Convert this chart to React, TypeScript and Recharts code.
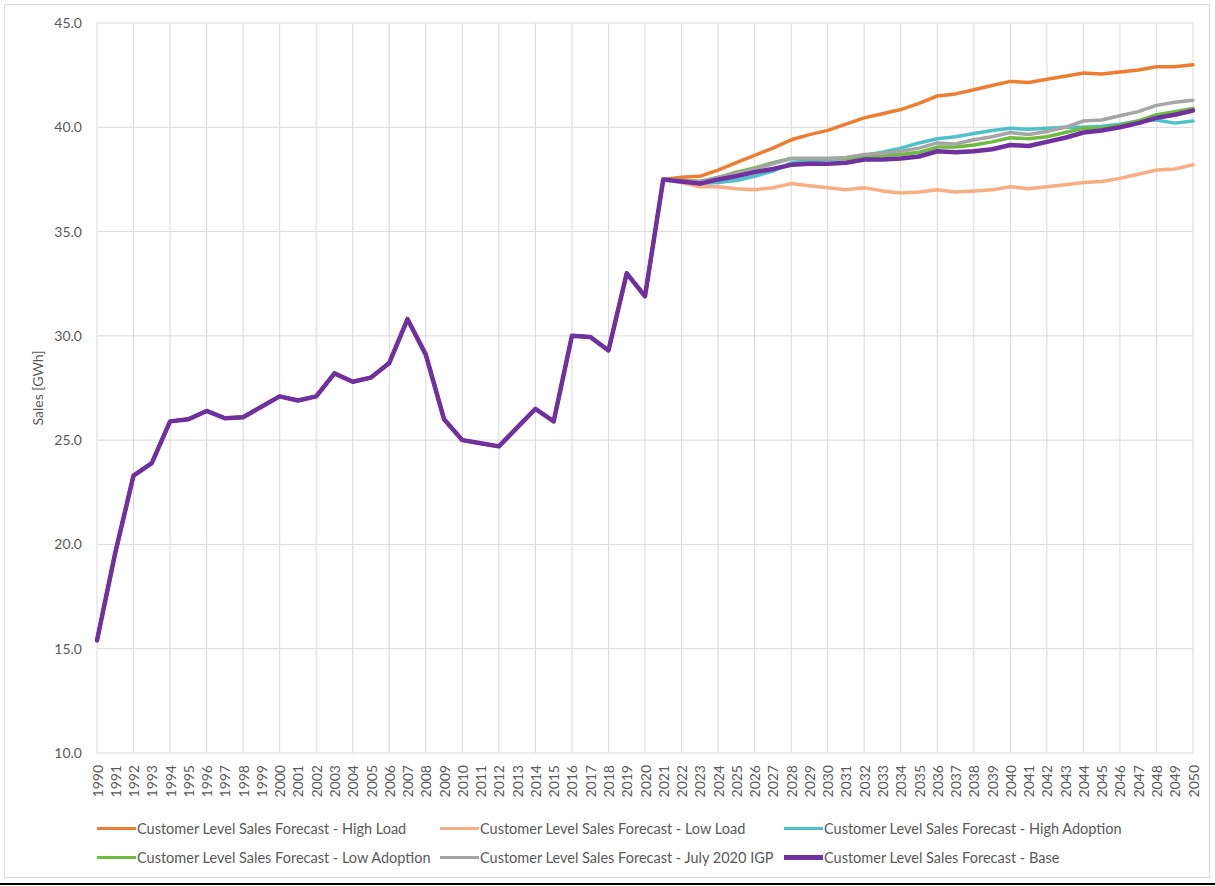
import React from 'react';
import { LineChart, Line, XAxis, YAxis, CartesianGrid, ReferenceLine, Legend } from 'recharts';

const YEARS = [
  1990, 1991, 1992, 1993, 1994, 1995, 1996, 1997, 1998, 1999,
  2000, 2001, 2002, 2003, 2004, 2005, 2006, 2007, 2008, 2009,
  2010, 2011, 2012, 2013, 2014, 2015, 2016, 2017, 2018, 2019,
  2020, 2021, 2022, 2023, 2024, 2025, 2026, 2027, 2028, 2029,
  2030, 2031, 2032, 2033, 2034, 2035, 2036, 2037, 2038, 2039,
  2040, 2041, 2042, 2043, 2044, 2045, 2046, 2047, 2048, 2049, 2050,
];

// 1990-2021 actuals (shared by every series)
const HISTORY = [
  15.4, 19.6, 23.3, 23.9, 25.9, 26.0, 26.4, 26.05, 26.1, 26.6,
  27.1, 26.9, 27.1, 28.2, 27.8, 28.0, 28.7, 30.8, 29.1, 26.0,
  25.0, 24.85, 24.7, 25.6, 26.5, 25.9, 30.0, 29.95, 29.3, 33.0,
  31.9, 37.5,
];

// 2022-2050 forecasts
const HIGH_LOAD = [
  37.6, 37.65, 37.95, 38.3, 38.65, 39.0, 39.4, 39.65, 39.85, 40.15,
  40.45, 40.65, 40.85, 41.15, 41.5, 41.6, 41.8, 42.0, 42.2, 42.15,
  42.3, 42.45, 42.6, 42.55, 42.65, 42.75, 42.9, 42.9, 43.0,
];
const LOW_LOAD = [
  37.35, 37.15, 37.15, 37.05, 37.0, 37.1, 37.3, 37.2, 37.1, 37.0,
  37.1, 36.95, 36.85, 36.9, 37.0, 36.9, 36.95, 37.0, 37.15, 37.05,
  37.15, 37.25, 37.35, 37.4, 37.55, 37.75, 37.95, 38.0, 38.2,
];
const HIGH_ADOPTION = [
  37.4, 37.3, 37.35, 37.45, 37.65, 37.9, 38.3, 38.4, 38.45, 38.5,
  38.65, 38.8, 39.0, 39.25, 39.45, 39.55, 39.7, 39.85, 39.95, 39.9,
  39.95, 40.0, 40.0, 40.05, 40.15, 40.3, 40.35, 40.2, 40.3,
];
const LOW_ADOPTION = [
  37.45, 37.4, 37.6, 37.85, 38.05, 38.3, 38.5, 38.5, 38.5, 38.5,
  38.6, 38.65, 38.7, 38.8, 39.05, 39.05, 39.15, 39.3, 39.5, 39.45,
  39.55, 39.75, 39.95, 39.95, 40.1, 40.3, 40.6, 40.75, 40.9,
];
const JULY_2020_IGP = [
  37.45, 37.4, 37.6, 37.8, 38.0, 38.25, 38.5, 38.5, 38.5, 38.55,
  38.7, 38.75, 38.85, 39.0, 39.25, 39.2, 39.4, 39.55, 39.75, 39.65,
  39.8, 40.0, 40.3, 40.35, 40.55, 40.75, 41.05, 41.2, 41.3,
];
const BASE = [
  37.4, 37.3, 37.5, 37.65, 37.85, 38.0, 38.2, 38.25, 38.25, 38.3,
  38.45, 38.45, 38.5, 38.6, 38.85, 38.8, 38.85, 38.95, 39.15, 39.1,
  39.3, 39.5, 39.75, 39.85, 40.0, 40.2, 40.45, 40.6, 40.8,
];

const Y_TICKS = [10, 15, 20, 25, 30, 35, 40, 45];

const SERIES = [
  { key: 'highLoad', name: 'Customer Level Sales Forecast - High Load', values: HIGH_LOAD, color: '#ED7D31', width: 3.5 },
  { key: 'lowLoad', name: 'Customer Level Sales Forecast - Low Load', values: LOW_LOAD, color: '#F7AE82', width: 3.5 },
  { key: 'highAdoption', name: 'Customer Level Sales Forecast - High Adoption', values: HIGH_ADOPTION, color: '#4FC1CB', width: 3.5 },
  { key: 'lowAdoption', name: 'Customer Level Sales Forecast - Low Adoption', values: LOW_ADOPTION, color: '#6DBB3F', width: 3.5 },
  { key: 'igp', name: 'Customer Level Sales Forecast - July 2020 IGP', values: JULY_2020_IGP, color: '#A5A5A5', width: 3.5 },
  { key: 'base', name: 'Customer Level Sales Forecast - Base', values: BASE, color: '#7030A0', width: 4.5 },
];

const data = YEARS.map((year, i) => {
  const row: Record<string, number> = { year };
  SERIES.forEach((s) => {
    row[s.key] = i < HISTORY.length ? HISTORY[i] : s.values[i - HISTORY.length];
  });
  return row;
});

const GRID_YEARS = YEARS.filter((y) => y % 2 === 0);

const FONT = 'Lato, "Open Sans", sans-serif';
const TEXT = '#595959';

const YearTick = (props: any) => {
  const { x, y, payload } = props;
  return (
    <text
      x={x}
      y={y}
      transform={`rotate(-90, ${x}, ${y})`}
      textAnchor="end"
      dominantBaseline="central"
      fontSize={14}
      fill={TEXT}
      fontFamily={FONT}
    >
      {payload.value}
    </text>
  );
};

const LegendContent = () => (
  <div
    style={{
      display: 'grid',
      gridTemplateColumns: '343px 344px 343px',
      gridAutoRows: '29px',
      fontFamily: FONT,
      fontSize: 14.5,
      color: TEXT,
    }}
  >
    {SERIES.map((s) => (
      <div key={s.key} style={{ display: 'flex', alignItems: 'center', whiteSpace: 'nowrap' }}>
        <span
          style={{
            display: 'inline-block',
            width: 39,
            height: s.width,
            background: s.color,
            marginRight: 1,
          }}
        />
        <span>{s.name}</span>
      </div>
    ))}
  </div>
);

export default function App() {
  return (
    <div style={{ position: 'absolute', left: 0, top: 0, width: 1215, height: 886, background: '#fff' }}>
      <div
        style={{
          position: 'absolute',
          left: 4,
          top: 4,
          width: 1206,
          height: 874,
          border: '1px solid #D9D9D9',
          boxSizing: 'border-box',
        }}
      />
      <div style={{ position: 'absolute', left: 0, top: 883, width: 1215, height: 2, background: '#000' }} />
      <div style={{ position: 'absolute', left: 0, top: 0 }}>
        <LineChart
          width={1215}
          height={886}
          data={data}
          margin={{ top: 23, right: 22, bottom: 73, left: 0 }}
          style={{ fontFamily: FONT }}
        >
          <CartesianGrid vertical={false} stroke="#D9D9D9" strokeWidth={1} />
          {GRID_YEARS.map((y) => (
            <ReferenceLine key={y} x={y} stroke="#D9D9D9" strokeWidth={1} />
          ))}
          <XAxis
            dataKey="year"
            type="category"
            interval={0}
            height={60}
            tickLine={false}
            axisLine={false}
            tickSize={6}
            tickMargin={6}
            tick={<YearTick />}
          />
          <YAxis
            type="number"
            domain={[10, 45]}
            ticks={Y_TICKS}
            width={97}
            tickLine={false}
            axisLine={false}
            tickSize={6}
            tickMargin={9}
            tickFormatter={(v: number) => v.toFixed(1)}
            tick={{ fill: TEXT, fontSize: 14, fontFamily: FONT }}
            label={{
              value: 'Sales [GWh]',
              angle: -90,
              position: 'insideLeft',
              offset: 38,
              style: { textAnchor: 'middle', fill: TEXT, fontSize: 14, fontFamily: FONT },
            }}
          />
          {SERIES.map((s) => (
            <Line
              key={s.key}
              type="linear"
              dataKey={s.key}
              name={s.name}
              stroke={s.color}
              strokeWidth={s.width}
              dot={false}
              activeDot={false}
              strokeLinejoin="round"
              strokeLinecap="round"
              isAnimationActive={false}
            />
          ))}
          <Legend
            layout="horizontal"
            verticalAlign="middle"
            align="center"
            content={<LegendContent />}
            wrapperStyle={{ top: 814, left: 97, width: 1100, height: 58 }}
          />
        </LineChart>
      </div>
    </div>
  );
}
